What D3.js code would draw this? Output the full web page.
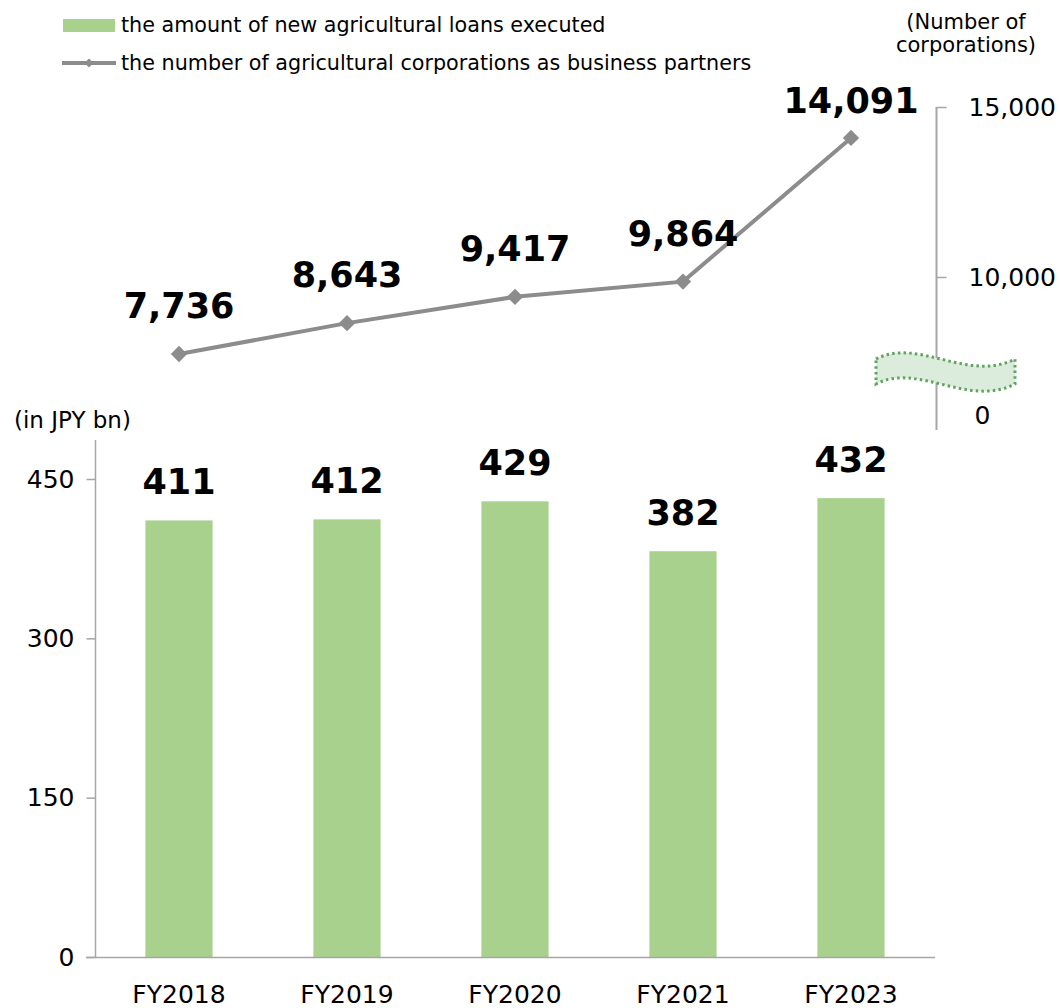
<!DOCTYPE html>
<html>
<head>
<meta charset="utf-8">
<script src="https://cdn.jsdelivr.net/npm/d3@7"></script>
<style>
  html, body { margin: 0; padding: 0; background: #fff; }
  svg { display: block; font-family: "DejaVu Sans", Verdana, sans-serif; }
</style>
</head>
<body>
<svg id="chart" width="1060" height="1008"></svg>
<script>
// Fiscal years shown on the category axis
const years = ["FY2018", "FY2019", "FY2020", "FY2021", "FY2023"];
// New agricultural loans executed (JPY bn)
const loans = [411, 412, 429, 382, 432];
// Agricultural corporations as business partners
const corporations = [7736, 8643, 9417, 9864, 14091];
// Axis ticks
const loanTicks = [0, 150, 300, 450];
const corpTicks = [0, 10000, 15000];
// Legend entries
const legendLabels = [
  "the amount of new agricultural loans executed",
  "the number of agricultural corporations as business partners"
];

const BAR = "#a9d18e";
const LINE = "#8c8c8c";
const AXIS = "#a6a6a6";

const svg = d3.select("#chart");

// Shared category scale
const x = d3.scaleBand().domain(years).range([95, 935]).paddingInner(0.6).paddingOuter(0.3);
const cx = d => x(d) + x.bandwidth() / 2;

// Loans scale (left axis, lower panel)
const yL = d3.scaleLinear().domain([0, 450]).range([957, 479]);

// Corporations scale with a broken segment between 0 and the plotted range
const yR = d3.scaleLinear().domain([0, 6500, 15000]).range([415, 396, 107]);

// ---------- Lower panel: bars ----------
const gBars = svg.append("g");
gBars.selectAll("rect").data(years).join("rect")
  .attr("x", d => x(d))
  .attr("width", x.bandwidth())
  .attr("y", (d, i) => yL(loans[i]))
  .attr("height", (d, i) => yL(0) - yL(loans[i]))
  .attr("fill", BAR);

gBars.selectAll("text").data(years).join("text")
  .attr("x", d => cx(d))
  .attr("y", (d, i) => yL(loans[i]) - 26)
  .attr("text-anchor", "middle")
  .attr("font-size", 35)
  .attr("font-weight", "bold")
  .attr("fill", "#000")
  .text((d, i) => d3.format(",")(loans[i]));

// Left axis
const axisL = svg.append("g").attr("transform", "translate(95.5,0)")
  .call(d3.axisLeft(yL).tickValues(loanTicks).tickSize(9).tickPadding(12).tickFormat(d3.format("d")));
axisL.select(".domain").remove();
axisL.selectAll(".tick line").attr("stroke", AXIS).attr("stroke-width", 1.5);
axisL.selectAll(".tick text").attr("font-size", 25).attr("fill", "#000").attr("font-family", "DejaVu Sans");
svg.append("line").attr("x1", 95.5).attr("x2", 95.5).attr("y1", 440).attr("y2", yL(0))
  .attr("stroke", AXIS).attr("stroke-width", 1.5);
// Baseline
svg.append("line").attr("x1", 86).attr("x2", 935).attr("y1", yL(0) + 0.5).attr("y2", yL(0) + 0.5)
  .attr("stroke", AXIS).attr("stroke-width", 1.5);

// Category labels
svg.append("g").selectAll("text").data(years).join("text")
  .attr("x", d => cx(d))
  .attr("y", 1003)
  .attr("text-anchor", "middle")
  .attr("font-size", 25)
  .attr("fill", "#000")
  .text(d => d);

svg.append("text").attr("x", 14).attr("y", 428).attr("font-size", 23).attr("fill", "#000").text("(in JPY bn)");

// ---------- Upper panel: line ----------
const pts = years.map((d, i) => [cx(d), yR(corporations[i])]);
svg.append("path")
  .attr("d", d3.line()(pts))
  .attr("fill", "none")
  .attr("stroke", LINE)
  .attr("stroke-width", 4);

const diamond = d3.symbol().type(d3.symbolDiamond2).size(170);
svg.append("g").selectAll("path").data(pts).join("path")
  .attr("transform", p => `translate(${p[0]},${p[1]})`)
  .attr("d", diamond)
  .attr("fill", LINE);

svg.append("g").selectAll("text").data(years).join("text")
  .attr("x", d => cx(d))
  .attr("y", (d, i) => yR(corporations[i]) - (i === years.length - 1 ? 25 : 36))
  .attr("text-anchor", "middle")
  .attr("font-size", 35)
  .attr("font-weight", "bold")
  .attr("fill", "#000")
  .text((d, i) => d3.format(",")(corporations[i]));

// Right axis
const axisR = svg.append("g").attr("transform", "translate(936.5,0)")
  .call(d3.axisRight(yR).tickValues(corpTicks).tickSize(10).tickPadding(22).tickFormat(d3.format(",")));
axisR.select(".domain").remove();
axisR.selectAll(".tick line").attr("stroke", AXIS).attr("stroke-width", 1.5)
  .attr("opacity", d => d === 0 ? 0 : 1);
axisR.selectAll(".tick text").attr("font-size", 25).attr("fill", "#000").attr("font-family", "DejaVu Sans")
  .attr("x", d => d === 0 ? 38 : 32);
svg.insert("line", "g").attr("x1", 936.5).attr("x2", 936.5).attr("y1", yR(15000)).attr("y2", 430)
  .attr("stroke", AXIS).attr("stroke-width", 2);

// Axis break marker
svg.append("path")
  .attr("d", "M876,359 C918,337 968,383 1015,359 L1015,384 C968,408 918,362 876,384 Z")
  .attr("fill", "#dcecdc")
  .attr("stroke", "#5fa35f")
  .attr("stroke-width", 3)
  .attr("stroke-dasharray", "2.5,3.2");

svg.append("text").attr("x", 966).attr("y", 29).attr("text-anchor", "middle")
  .attr("font-size", 21).attr("fill", "#000").text("(Number of");
svg.append("text").attr("x", 966).attr("y", 52).attr("text-anchor", "middle")
  .attr("font-size", 21).attr("fill", "#000").text("corporations)");

// ---------- Legend ----------
const lg = svg.append("g");
lg.append("rect").attr("x", 63).attr("y", 19).attr("width", 52).attr("height", 13).attr("fill", BAR);
lg.append("text").attr("x", 121).attr("y", 32).attr("font-size", 20.7).attr("fill", "#000").text(legendLabels[0]);
lg.append("line").attr("x1", 62).attr("x2", 116).attr("y1", 63).attr("y2", 63)
  .attr("stroke", LINE).attr("stroke-width", 4);
lg.append("path").attr("transform", "translate(89,63)").attr("d", d3.symbol().type(d3.symbolDiamond2).size(50))
  .attr("fill", LINE);
lg.append("text").attr("x", 121).attr("y", 70).attr("font-size", 20.7).attr("fill", "#000").text(legendLabels[1]);
</script>
</body>
</html>
